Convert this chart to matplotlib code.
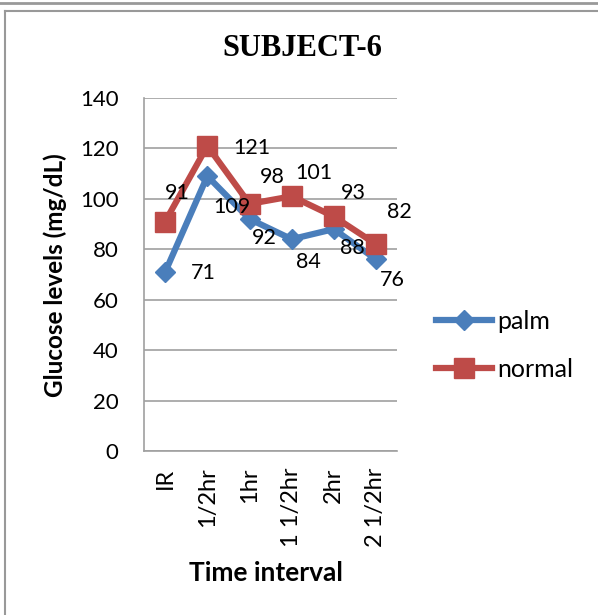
import matplotlib.pyplot as plt
from matplotlib.lines import Line2D

time_labels = ["IR", "1/2hr", "1hr", "1 1/2hr", "2hr", "2 1/2hr"]
palm = [71, 109, 92, 84, 88, 76]
normal = [91, 121, 98, 101, 93, 82]

# data label offsets in pixels
palm_off = [(38, -1), (25, -31), (15, -19), (17, -23), (19, -19), (16, -21)]
normal_off = [(12, 29), (45, -2), (23, 27), (22, 23), (20, 23), (23, 32)]

BLUE = "#4A7EBB"
RED = "#BE4B48"
GRID = "#A0A0A0"
FONT = ["Lato", "DejaVu Sans"]

fig = plt.figure(figsize=(5.98, 6.15), dpi=100)
ax = fig.add_axes([0.241, 0.2667, 0.423, 0.574])

x = range(len(time_labels))
ax.plot(x, palm, color=BLUE, lw=4.5, marker="D", ms=10.5, label="palm", zorder=3)
ax.plot(x, normal, color=RED, lw=4.5, marker="s", ms=14, label="normal", zorder=4)

for i, v in enumerate(palm):
    ax.annotate(str(v), (i, v), xytext=palm_off[i], textcoords="offset pixels",
                ha="center", va="center", fontsize=15.5, family=FONT, zorder=5)
for i, v in enumerate(normal):
    ax.annotate(str(v), (i, v), xytext=normal_off[i], textcoords="offset pixels",
                ha="center", va="center", fontsize=15.5, family=FONT, zorder=5)

ax.set_xlim(-0.5, len(time_labels) - 0.5)
ax.set_ylim(0, 140)
ax.set_yticks(range(0, 141, 20))
ax.set_xticks(list(x))
ax.set_xticklabels(time_labels, rotation=90, fontsize=17, family=FONT)
for t in ax.get_yticklabels():
    t.set_fontsize(16)
    t.set_family(FONT)
ax.tick_params(axis="y", length=0, pad=18.5)
ax.tick_params(axis="x", length=0, pad=12)
ax.grid(axis="y", color=GRID, lw=1.2)
ax.set_axisbelow(True)
for s in ["top", "right"]:
    ax.spines[s].set_visible(False)
for s in ["left", "bottom"]:
    ax.spines[s].set_color(GRID)
    ax.spines[s].set_linewidth(1.2)

fig.text(55 / 598, 1 - 275 / 615, "Glucose levels (mg/dL)", rotation=90, ha="center",
         va="center", rotation_mode="anchor", fontsize=17.5, fontweight="bold", family=FONT)
fig.text(266 / 598, 1 - 573 / 615, "Time interval", ha="center", va="center",
         fontsize=19, fontweight="bold", family=FONT)
fig.text(302 / 598, 1 - 48 / 615, "SUBJECT-6", ha="center", va="center", fontsize=22,
         fontweight="bold", family="Liberation Serif")

handles = [Line2D([], [], color=BLUE, lw=4.5, marker="D", ms=10.5),
           Line2D([], [], color=RED, lw=4.5, marker="s", ms=14)]
fig.legend(handles, ["palm", "normal"], loc="center left", bbox_to_anchor=(436 / 598, 0.438),
           frameon=False, prop={"family": FONT, "size": 18}, handlelength=2.25,
           handletextpad=0.2, labelspacing=1.0, borderpad=0, borderaxespad=0)

# outer frame lines
fig.add_artist(Line2D([0, 1], [0.995, 0.995], color="#999999", lw=2, transform=fig.transFigure))
fig.add_artist(Line2D([0.008, 1], [0.982, 0.982], color="#999999", lw=1.5, transform=fig.transFigure))
fig.add_artist(Line2D([0.008, 0.008], [0, 0.982], color="#999999", lw=1.5, transform=fig.transFigure))

plt.savefig("out.png", dpi=100)
